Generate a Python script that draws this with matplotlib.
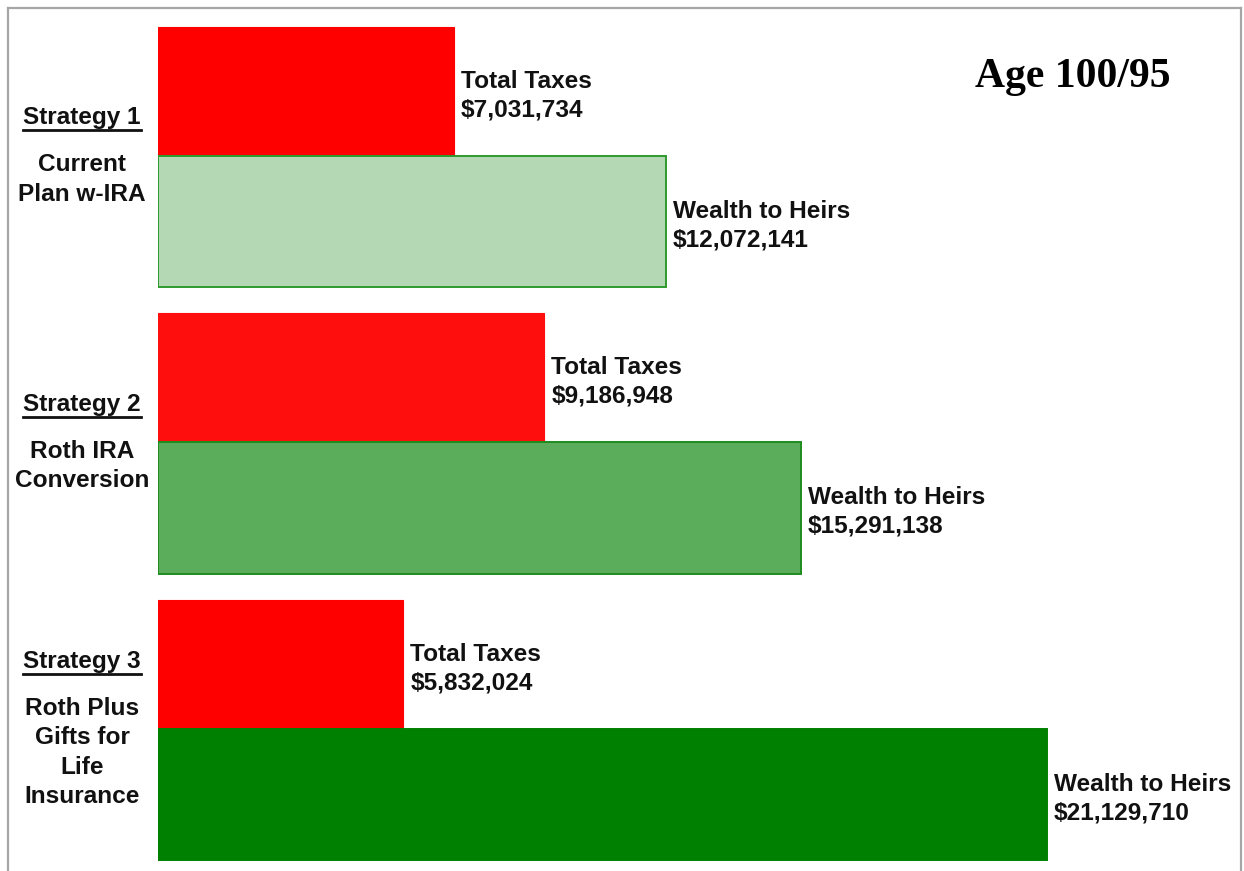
import matplotlib
matplotlib.use("Agg")
import matplotlib.pyplot as plt
from matplotlib.lines import Line2D
from matplotlib.transforms import offset_copy

# ---- data ----
strategies = ["Strategy 1", "Strategy 2", "Strategy 3"]
descriptions = [["Current", "Plan w-IRA"],
                ["Roth IRA", "Conversion"],
                ["Roth Plus", "Gifts for", "Life", "Insurance"]]
total_taxes = [7031734, 9186948, 5832024]
wealth_to_heirs = [12072141, 15291138, 21129710]
tax_label = "Total Taxes"
wealth_label = "Wealth to Heirs"
title_text = "Age 100/95"

red_colors = ["#FF0000", "#FF0E0E", "#FF0000"]
green_colors = ["#B3D8B3", "#5BAD5B", "#008000"]
green_edges = ["#2E9A2E", "#1E8C1E", "#008000"]

W, H = 1244, 871
fig = plt.figure(figsize=(W / 100, H / 100), dpi=100)
fig.patch.set_facecolor("white")

px = 1.0 / 286.5  # data units per pixel vertically
ax = fig.add_axes([158 / W, 0, (1241 - 158) / W, 1])
ax.set_xlim(0, (1241 - 158) / 42.05 * 1e6)
ax.set_ylim((871 - 156) * px, -156 * px)
ax.axis("off")

h_red = 129 * px
h_green = 131 * px
font = ["Liberation Sans", "DejaVu Sans"]
fs = 17.6

for i in range(len(strategies)):
    ax.barh(i - h_red / 2, total_taxes[i], height=h_red, left=0,
            color=red_colors[i], edgecolor=red_colors[i], linewidth=0.8)
    ax.barh(i + h_green / 2, wealth_to_heirs[i], height=h_green, left=0,
            color=green_colors[i], edgecolor=green_edges[i], linewidth=1.4)
    t1 = offset_copy(ax.transData, fig=fig, x=7, y=-4, units="dots")
    ax.text(total_taxes[i], i - h_red / 2,
            f"{tax_label}\n${total_taxes[i]:,}", transform=t1,
            ha="left", va="center", fontsize=fs, fontweight="bold",
            family=font, linespacing=1.3, color="#111111")
    ax.text(wealth_to_heirs[i], i + h_green / 2,
            f"{wealth_label}\n${wealth_to_heirs[i]:,}", transform=t1,
            ha="left", va="center", fontsize=fs, fontweight="bold",
            family=font, linespacing=1.3, color="#111111")

# left labels
fig.canvas.draw()
renderer = fig.canvas.get_renderer()
x_center = 82 / W
for i, (s, desc) in enumerate(zip(strategies, descriptions)):
    gap = 47
    lsp = 29.5
    block = gap + lsp * (len(desc) - 1)
    top = -block / 2
    disp_y = ax.transData.transform((0, i))[1]
    y_s = (disp_y - top) / H
    t = fig.text(x_center, y_s, s, ha="center", va="center", fontsize=fs,
                 fontweight="bold", family=font, color="#111111")
    bb = t.get_window_extent(renderer)
    uy = (bb.y0 - 1) / H
    fig.add_artist(Line2D([bb.x0 / W, bb.x1 / W], [uy, uy],
                          transform=fig.transFigure, color="#111111", lw=2.0))
    for k, line in enumerate(desc):
        yy = (disp_y - (top + gap + lsp * k)) / H
        fig.text(x_center, yy, line, ha="center", va="center", fontsize=fs,
                 fontweight="bold", family=font, color="#111111")

fig.text(1073 / W, 1 - 77 / H, title_text, ha="center", va="center",
         fontsize=30, fontweight="bold", family="Liberation Serif", color="black")

# figure frame (left, top, right)
fc = "#A6A6A6"
fig.add_artist(Line2D([8 / W, 8 / W], [0, 1 - 8 / H], transform=fig.transFigure, color=fc, lw=1.6))
fig.add_artist(Line2D([8 / W, 1241 / W], [1 - 8 / H, 1 - 8 / H], transform=fig.transFigure, color=fc, lw=1.6))
fig.add_artist(Line2D([1241 / W, 1241 / W], [0, 1 - 8 / H], transform=fig.transFigure, color=fc, lw=1.6))

fig.savefig("out.png", dpi=100, facecolor="white")
